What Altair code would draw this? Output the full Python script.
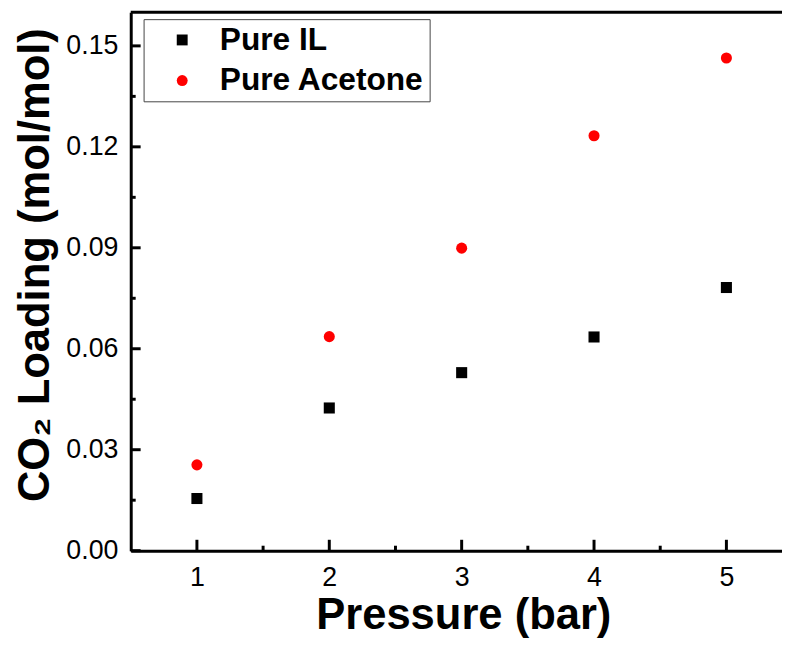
import altair as alt
import pandas as pd

# ---- data ----
pressure = [1, 2, 3, 4, 5]
pure_il = [0.0155, 0.0424, 0.0529, 0.0635, 0.0782]
pure_acetone = [0.0255, 0.0636, 0.0899, 0.1233, 0.1464]
series_names = ["Pure IL", "Pure Acetone"]
series_colors = ["#000000", "#ff0000"]
series_shapes = ["square", "circle"]

x_major = [1, 2, 3, 4, 5]
x_minor = [1.5, 2.5, 3.5, 4.5]
y_major = [0.0, 0.03, 0.06, 0.09, 0.12, 0.15]
y_minor = [0.015, 0.045, 0.075, 0.105, 0.135]
x_domain = [0.5, 5.42]
y_domain = [0.0, 0.16]

FONT = "Liberation Sans, Arial, Helvetica, sans-serif"
W, H = 658, 544

rows = []
for p, v in zip(pressure, pure_il):
    rows.append({"p": p, "v": v, "s": series_names[0]})
for p, v in zip(pressure, pure_acetone):
    rows.append({"p": p, "v": v, "s": series_names[1]})
pts = pd.DataFrame(rows)

xs = alt.Scale(domain=x_domain, nice=False, zero=False)
ys = alt.Scale(domain=y_domain, nice=False, zero=False)

x_axis = alt.Axis(
    values=x_major, format="d", title="Pressure (bar)",
    labelPadding=14, titleX=336, titleY=79, titleAlign="center",
    titleBaseline="alphabetic", titleFontSize=44)
y_axis = alt.Axis(
    values=y_major, format=".2f", title="CO\u2082 Loading (mol/mol)",
    labelPadding=13, titleX=-83, titleY=255, titleAlign="center",
    titleBaseline="alphabetic", titleFontSize=44)

legend = alt.Legend(
    title=None, orient="none", legendX=13, legendY=7,
    padding=5, symbolOffset=18, strokeColor="#444444", fillColor="white",
    labelFont=FONT, labelFontSize=32, labelFontWeight="bold", labelColor="black",
    labelOffset=22, labelLimit=500, rowPadding=9, symbolSize=121, symbolStrokeWidth=0,
)

points = alt.Chart(pts).mark_point(filled=True, size=125, opacity=1).encode(
    x=alt.X("p:Q", scale=xs, axis=x_axis),
    y=alt.Y("v:Q", scale=ys, axis=y_axis),
    shape=alt.Shape("s:N", scale=alt.Scale(domain=series_names, range=series_shapes), legend=legend),
    color=alt.Color("s:N", scale=alt.Scale(domain=series_names, range=series_colors), legend=legend),
)

xt_major = alt.Chart(pd.DataFrame({"p": x_major})).mark_rule(strokeWidth=3, color="black").encode(
    x=alt.X("p:Q", scale=xs, axis=x_axis), y=alt.value(H), y2=alt.value(H - 11))
xt_minor = alt.Chart(pd.DataFrame({"p": x_minor})).mark_rule(strokeWidth=3, color="black").encode(
    x=alt.X("p:Q", scale=xs, axis=x_axis), y=alt.value(H), y2=alt.value(H - 5))
yt_major = alt.Chart(pd.DataFrame({"v": y_major})).mark_rule(strokeWidth=3, color="black").encode(
    y=alt.Y("v:Q", scale=ys, axis=y_axis), x=alt.value(0), x2=alt.value(10))
yt_minor = alt.Chart(pd.DataFrame({"v": y_minor})).mark_rule(strokeWidth=3, color="black").encode(
    y=alt.Y("v:Q", scale=ys, axis=y_axis), x=alt.value(0), x2=alt.value(5))
top = alt.Chart(pd.DataFrame({"v": [y_domain[1]]})).mark_rule(strokeWidth=3, color="black").encode(
    y=alt.Y("v:Q", scale=ys, axis=y_axis))

chart = alt.layer(xt_major, xt_minor, yt_major, yt_minor, top, points).properties(
    width=W, height=H,
    autosize=alt.AutoSizeParams(type="none"),
    padding={"left": 124, "top": 1, "right": 0, "bottom": 89},
    background="white",
).configure_view(stroke=None).configure_axis(
    grid=False, ticks=False, domainColor="black", domainWidth=3,
    labelFont=FONT, labelFontSize=27, labelColor="black",
    titleFont=FONT, titleFontWeight="bold", titleColor="black",
)

chart.save("out.html", embed_options={"renderer": "svg", "actions": False})
